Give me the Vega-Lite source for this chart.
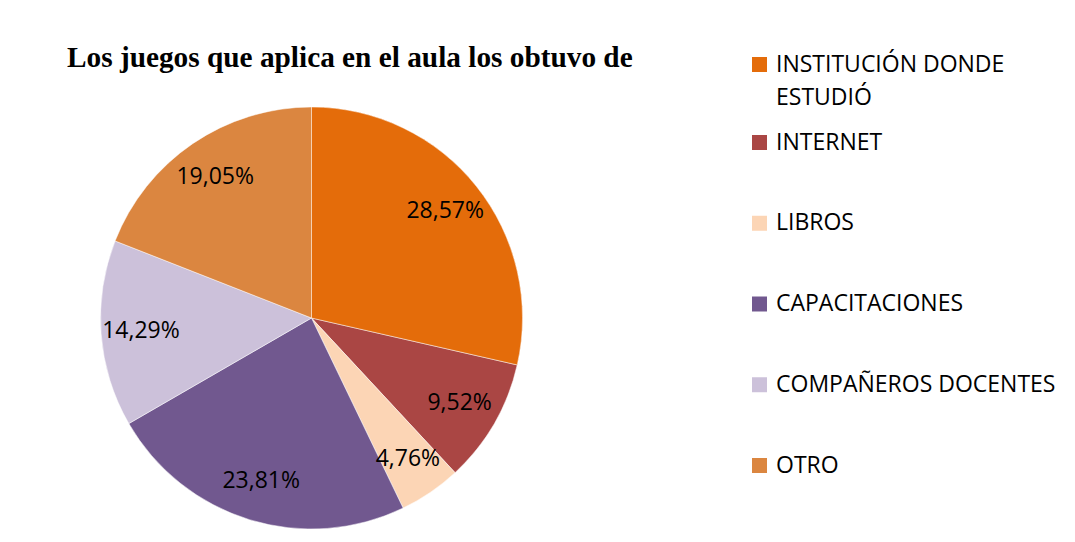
{
  "$schema": "https://vega.github.io/schema/vega-lite/v6.json",
  "autosize": {"type": "none"},
  "width": 623,
  "height": 448,
  "padding": {"left": 0, "top": 94, "right": 452, "bottom": 0},
  "background": "white",
  "config": {"view": {"stroke": null}, "style": {"guide-label": {"lineHeight": 33}}},
  "title": {
    "text": "Los juegos que aplica en el aula los obtuvo de",
    "font": "Liberation Serif",
    "fontSize": 29.3,
    "fontWeight": "bold",
    "color": "black",
    "anchor": "start",
    "frame": "group",
    "dx": 67,
    "dy": 67,
    "offset": 24,
    "baseline": "alphabetic"
  },
  "data": {
    "values": [
      {"fuente": "INSTITUCIÓN DONDE ESTUDIÓ", "pct": 28.57, "etiqueta": "28,57%", "orden": 1},
      {"fuente": "INTERNET", "pct": 9.52, "etiqueta": "9,52%", "orden": 2},
      {"fuente": "LIBROS", "pct": 4.76, "etiqueta": "4,76%", "orden": 3},
      {"fuente": "CAPACITACIONES", "pct": 23.81, "etiqueta": "23,81%", "orden": 4},
      {"fuente": "COMPAÑEROS DOCENTES", "pct": 14.29, "etiqueta": "14,29%", "orden": 5},
      {"fuente": "OTRO", "pct": 19.05, "etiqueta": "19,05%", "orden": 6}
    ]
  },
  "layer": [
    {
      "mark": {"type": "arc", "outerRadius": 211, "stroke": "white", "strokeWidth": 0.5},
      "encoding": {
        "theta": {"field": "pct", "type": "quantitative", "stack": true},
        "order": {"field": "orden", "type": "quantitative"},
        "color": {
          "field": "fuente",
          "type": "nominal",
          "scale": {
            "domain": ["INSTITUCIÓN DONDE ESTUDIÓ", "INTERNET", "LIBROS", "CAPACITACIONES", "COMPAÑEROS DOCENTES", "OTRO"],
            "range": ["#E46C0A", "#AA4644", "#FCD5B5", "#71588F", "#CCC1DA", "#DB8640"]
          },
          "legend": {
            "orient": "none",
            "legendX": 748,
            "legendY": 37,
            "title": null,
            "values": ["INTERNET", "LIBROS", "CAPACITACIONES", "COMPAÑEROS DOCENTES", "OTRO"],
            "symbolType": "square",
            "symbolSize": 225,
            "symbolStrokeWidth": 0,
            "labelFont": "Open Sans",
            "labelFontSize": 23,
            "labelColor": "black",
            "labelOffset": 5,
            "labelLimit": 400,
            "rowPadding": 56.75
          }
        }
      }
    },
    {
      "transform": [{"filter": "datum.fuente == 'INSTITUCIÓN DONDE ESTUDIÓ'"}],
      "mark": {"type": "arc", "outerRadius": 211, "stroke": "white", "strokeWidth": 0.5},
      "encoding": {
        "theta": {"field": "pct", "type": "quantitative", "stack": true},
        "order": {"field": "orden", "type": "quantitative"},
        "fill": {
          "field": "fuente",
          "type": "nominal",
          "scale": {
            "domain": ["INSTITUCIÓN DONDE ESTUDIÓ"],
            "range": ["#E46C0A"]
          },
          "legend": {
            "orient": "none",
            "legendX": 748,
            "legendY": -41,
            "title": null,
            "symbolType": "square",
            "symbolSize": 225,
            "symbolStrokeWidth": 0,
            "labelFont": "Open Sans",
            "labelFontSize": 23,
            "labelColor": "black",
            "labelOffset": 5,
            "labelLimit": 400,
            "labelExpr": "['INSTITUCIÓN DONDE', 'ESTUDIÓ']"
          }
        }
      }
    },
    {
      "mark": {"type": "text", "radius": 171, "font": "Open Sans", "fontSize": 23, "color": "black"},
      "encoding": {
        "theta": {"field": "pct", "type": "quantitative", "stack": true},
        "order": {"field": "orden", "type": "quantitative"},
        "text": {"field": "etiqueta", "type": "nominal"}
      }
    }
  ]
}
